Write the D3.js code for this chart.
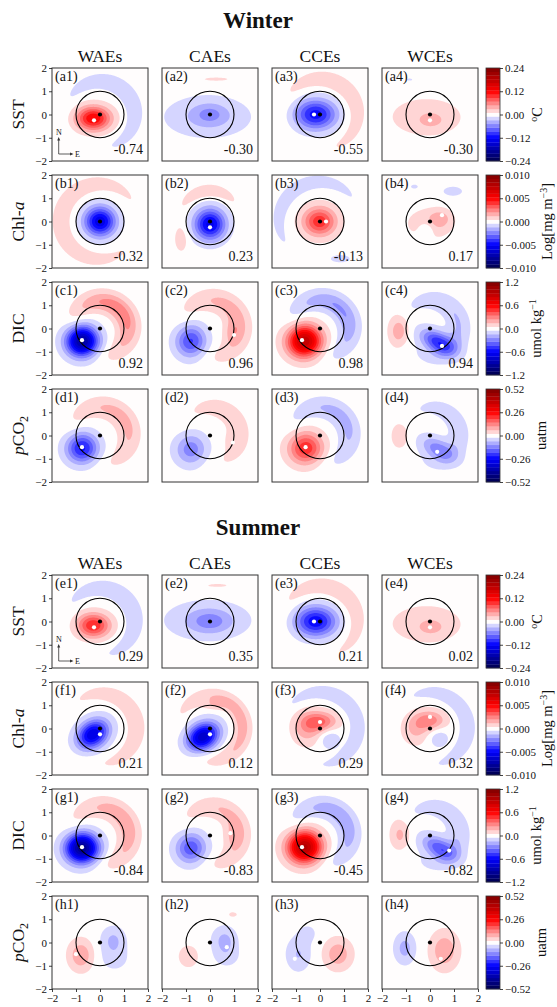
<!DOCTYPE html>
<html>
<head>
<meta charset="utf-8">
<script src="https://cdn.jsdelivr.net/npm/d3@7"></script>
<style>
  body { margin: 0; background: #fff; }
  text { font-family: "Liberation Serif", "Times New Roman", serif; fill: #111; }
</style>
</head>
<body>
<svg id="fig" width="557" height="1007"></svg>
<script>
// ---- chart data ----
const seasonTitles = ["Winter", "Summer"];
const eddyTypes = ["WAEs", "CAEs", "CCEs", "WCEs"];
const panelLetters = [["a", "b", "c", "d"], ["e", "f", "g", "h"]];
const varMax = [0.24, 0.010, 1.2, 0.52];
const cbarTickLabels = [
  ["0.24", "0.12", "0.00", "−0.12", "−0.24"],
  ["0.010", "0.005", "0.000", "−0.005", "−0.010"],
  ["1.2", "0.6", "0.0", "−0.6", "−1.2"],
  ["0.52", "0.26", "0.00", "−0.26", "−0.52"]
];
const axisTicks = [-2, -1, 0, 1, 2];

const corrWinter = [
  ["-0.74", "-0.30", "-0.55", "-0.30"],
  ["-0.32", "0.23", "-0.13", "0.17"],
  ["0.92", "0.96", "0.98", "0.94"],
  null
];
const corrSummer = [
  ["0.29", "0.35", "0.21", "0.02"],
  ["0.21", "0.12", "0.29", "0.32"],
  ["-0.84", "-0.83", "-0.45", "-0.82"],
  null
];

// white dot (anomaly extreme) per panel, null if hidden under the centre dot
const dotsWinter = [
  [[-0.25, -0.25], null, [-0.25, 0], [0, -0.25]],
  [null, [0, -0.25], [0.25, 0], [0.5, 0.27]],
  [[-0.75, -0.5], [1.0, -0.28], [-0.75, -0.5], [0.5, -0.75]],
  [[-0.75, -0.5], [0.95, -0.3], [-0.6, -0.5], [0.3, -0.7]]
];
const dotsSummer = [
  [[-0.25, -0.25], null, [-0.25, 0], [0, -0.25]],
  [[0, -0.25], [0, -0.25], [0, 0.28], [0, 0.5]],
  [[-0.75, -0.5], [0.85, 0.1], [-0.75, -0.5], [0.8, -0.65]],
  [[-1.0, -0.5], [0.7, -0.2], [-1.05, -0.7], [0.45, -0.7]]
];

// composite fields:
// ["b", x, y, sx, sy, amp, rotDeg]  blob
// ["r", radius, width, centreDeg, spreadDeg, amp]  arc around the eddy
const sstWinter = [
  [["b", -0.28, -0.17, 0.5, 0.36, 0.125], ["r", 1.42, 0.26, 40, 80, -0.025]],
  [["b", -0.1, -0.1, 1.15, 0.58, -0.033], ["b", 0, 0.02, 0.45, 0.3, -0.027], ["b", 0.25, 1.52, 0.5, 0.07, 0.016]],
  [["b", -0.18, 0, 0.6, 0.45, -0.115], ["r", 1.5, 0.27, 45, 80, 0.025]],
  [["b", -0.15, -0.1, 1.2, 0.65, 0.019], ["b", 0.05, -0.25, 0.4, 0.25, 0.022], ["b", -0.85, 1.5, 0.15, 0.06, -0.014]]
];
const chlWinter = [
  [["b", 0, 0, 0.45, 0.44, -0.0058], ["r", 1.6, 0.25, 172, 92, 0.0012]],
  [["b", 0, -0.12, 0.45, 0.47, -0.0055], ["r", 1.3, 0.2, 95, 40, 0.0011], ["b", -1.2, -0.75, 0.2, 0.4, 0.0009]],
  [["b", -0.02, 0, 0.48, 0.43, 0.0042], ["r", 1.7, 0.2, 125, 58, -0.0012], ["b", 0.85, -1.6, 0.3, 0.12, -0.0009]],
  [["b", 0, -0.1, 0.6, 0.42, 0.0013], ["b", 0.45, 0.15, 0.3, 0.25, 0.0011], ["b", -0.15, -0.3, 0.25, 0.25, -0.0012],
   ["b", 0.95, 1.3, 0.3, 0.15, -0.0009], ["b", -0.65, 1.5, 0.12, 0.07, -0.0008]]
];
const dicWinter = [
  [["b", -0.75, -0.55, 0.46, 0.45, -0.95], ["r", 1.15, 0.32, 45, 70, 0.3]],
  [["b", -0.8, -0.55, 0.44, 0.48, -0.45], ["r", 1.2, 0.34, 30, 72, 0.2], ["b", 0.9, -0.15, 0.25, 0.35, 0.1]],
  [["b", -0.65, -0.55, 0.5, 0.48, 0.9], ["r", 1.2, 0.32, 45, 70, -0.25]],
  [["b", 0.35, -0.6, 0.55, 0.3, -0.5, -30], ["r", 1.2, 0.32, 10, 80, -0.15], ["b", -1.3, -0.1, 0.28, 0.45, 0.22]]
];
const pco2Winter = [
  [["b", -0.75, -0.55, 0.46, 0.45, -0.24], ["r", 1.2, 0.32, 40, 70, 0.08]],
  [["b", -0.8, -0.6, 0.46, 0.48, -0.13], ["r", 1.2, 0.32, 30, 70, 0.05], ["b", 0.9, -0.2, 0.25, 0.3, 0.02]],
  [["b", -0.6, -0.55, 0.5, 0.48, 0.22], ["r", 1.2, 0.32, 40, 70, -0.08]],
  [["b", 0.35, -0.6, 0.55, 0.3, -0.13, -30], ["r", 1.2, 0.32, 10, 80, -0.045], ["b", -1.25, 0, 0.28, 0.45, 0.05]]
];
const sstSummer = [
  [["b", -0.28, -0.17, 0.48, 0.36, 0.105], ["r", 1.42, 0.27, 35, 78, -0.026]],
  [["b", -0.1, 0.05, 1.15, 0.55, -0.033], ["b", 0, 0, 0.55, 0.33, -0.03], ["b", 0.3, 1.55, 0.45, 0.07, 0.015]],
  [["b", -0.18, 0, 0.6, 0.45, -0.12], ["r", 1.5, 0.27, 50, 80, 0.025]],
  [["b", -0.15, -0.1, 1.2, 0.65, 0.019], ["b", 0.05, -0.25, 0.4, 0.25, 0.022]]
];
const chlSummer = [
  [["b", -0.3, -0.25, 0.5, 0.38, -0.006, 40], ["r", 1.5, 0.24, 20, 70, 0.0012]],
  [["b", -0.3, -0.35, 0.5, 0.38, -0.0066, 35], ["r", 1.35, 0.25, 20, 78, 0.0017], ["b", 0.2, 1.0, 0.35, 0.15, 0.0008]],
  [["b", 0, 0.3, 0.5, 0.3, 0.0028], ["b", -0.55, 0, 0.45, 0.5, 0.0016], ["b", 0.4, -0.45, 0.3, 0.3, -0.0012],
   ["r", 1.55, 0.22, 30, 78, -0.0012]],
  [["b", 0, 0.35, 0.45, 0.3, 0.0024], ["b", -0.6, -0.05, 0.4, 0.45, 0.0013], ["b", 0.35, -0.4, 0.3, 0.3, -0.001],
   ["r", 1.55, 0.22, 20, 65, -0.0012]]
];
const dicSummer = [
  [["b", -0.75, -0.55, 0.48, 0.45, -1.0], ["r", 1.2, 0.32, 30, 72, 0.22]],
  [["b", -0.8, -0.55, 0.44, 0.46, -0.42], ["r", 1.2, 0.32, 25, 72, 0.18], ["b", 0.9, 0, 0.25, 0.35, 0.08]],
  [["b", -0.65, -0.5, 0.5, 0.48, 0.95], ["r", 1.2, 0.32, 40, 70, -0.22]],
  [["b", 0.4, -0.55, 0.55, 0.3, -0.4, -30], ["r", 1.2, 0.32, 10, 80, -0.13], ["b", -1.25, 0.05, 0.28, 0.45, 0.18]]
];
const pco2Summer = [
  [["b", -0.8, -0.55, 0.35, 0.45, 0.1], ["b", 0.55, 0.1, 0.35, 0.4, -0.07], ["b", 0.6, -0.7, 0.45, 0.4, -0.035]],
  [["b", 0.6, 0.1, 0.35, 0.4, -0.075], ["b", 0.7, -0.6, 0.4, 0.35, -0.035], ["b", -0.9, -0.6, 0.35, 0.4, 0.04],
   ["b", 0.95, 1.2, 0.2, 0.12, 0.03]],
  [["b", -0.9, -0.5, 0.35, 0.5, -0.065], ["b", -0.5, 0.4, 0.3, 0.3, -0.03], ["b", 0.75, -0.5, 0.4, 0.45, 0.095]],
  [["b", -1.05, -0.25, 0.3, 0.45, -0.08], ["b", 0.6, -0.35, 0.4, 0.55, 0.1]]
];

const fields = [
  [sstWinter, chlWinter, dicWinter, pco2Winter],
  [sstSummer, chlSummer, dicSummer, pco2Summer]
];
const corrs = [corrWinter, corrSummer];
const dots = [dotsWinter, dotsSummer];

// ---- layout ----
const svg = d3.select("#fig");
const panelW = 96, panelH = 93, colStep = 110, rowStep = 107;
const firstLeft = 52;
const seasonTop = [68, 575];
const cbarLeft = 486, cbarWidth = 14;
const nGrid = 101, nBands = 25;

// matplotlib "seismic"
function seismic(t) {
  const idx = Math.min(255, Math.max(0, Math.floor(t * 256)));
  const u = idx / 255;
  let r, g, b;
  if (u < 0.25) { r = 0; g = 0; b = 0.3 + 0.7 * u / 0.25; }
  else if (u < 0.5) { r = g = (u - 0.25) / 0.25; b = 1; }
  else if (u < 0.75) { r = 1; g = b = 1 - (u - 0.5) / 0.25; }
  else { r = 1 - 0.5 * (u - 0.75) / 0.25; g = b = 0; }
  return d3.rgb(r * 255, g * 255, b * 255).formatHex();
}
const bandColor = k => seismic((k + 0.5) / nBands);

function fieldAt(comps, px, py) {
  let v = 0;
  comps.forEach(c => {
    if (c[0] === "b") {
      const [, cx, cy, sx, sy, amp, rot = 0] = c;
      const a = rot * Math.PI / 180;
      const dx = px - cx, dy = py - cy;
      const u = (dx * Math.cos(a) + dy * Math.sin(a)) / sx;
      const w = (-dx * Math.sin(a) + dy * Math.cos(a)) / sy;
      v += amp * Math.exp(-0.5 * (u * u + w * w));
    } else {
      const [, r0, wr, ang, spread, amp] = c;
      const rho = Math.hypot(px, py);
      const phi = Math.atan2(py, px) * 180 / Math.PI;
      const dphi = ((phi - ang) % 360 + 540) % 360 - 180;
      v += amp * Math.exp(-0.5 * ((rho - r0) / wr) ** 2) * Math.exp(-0.5 * (dphi / spread) ** 2);
    }
  });
  return v;
}

const fmtTick = d => d < 0 ? "−" + (-d) : String(d);
let clipId = 0;

function styleAxis(g) {
  g.select(".domain").remove();
  g.selectAll("line").attr("stroke", "#111").attr("stroke-width", 0.8);
  g.selectAll("text")
    .attr("font-family", '"Liberation Serif", serif')
    .attr("font-size", 11)
    .attr("fill", "#111");
}

function drawPanel(s, r, c) {
  const left = firstLeft + c * colStep;
  const top = seasonTop[s] + r * rowStep;
  const vmax = varMax[r];
  const comps = fields[s][r][c];

  const x = d3.scaleLinear().domain([-2, 2]).range([0, panelW]);
  const y = d3.scaleLinear().domain([-2, 2]).range([panelH, 0]);

  const g = svg.append("g").attr("transform", `translate(${left},${top})`);
  const id = "clip" + (clipId++);
  g.append("clipPath").attr("id", id)
    .append("rect").attr("width", panelW).attr("height", panelH);

  const values = new Array(nGrid * nGrid);
  for (let j = 0; j < nGrid; j++) {
    const py = 2 - 4 * j / (nGrid - 1);
    for (let i = 0; i < nGrid; i++) {
      const px = -2 + 4 * i / (nGrid - 1);
      values[j * nGrid + i] = fieldAt(comps, px, py);
    }
  }
  const levels = d3.range(nBands + 1).map(k => -vmax + k * 2 * vmax / nBands);
  const contours = d3.contours().size([nGrid, nGrid]).thresholds(levels.slice(1, nBands))(values);

  const gx = d3.scaleLinear().domain([0.5, nGrid - 0.5]).range([x(-2), x(2)]);
  const gy = d3.scaleLinear().domain([0.5, nGrid - 0.5]).range([y(2), y(-2)]);
  const path = d3.geoPath(d3.geoTransform({
    point(px, py) { this.stream.point(gx(px), gy(py)); }
  }));

  const plot = g.append("g").attr("clip-path", `url(#${id})`);
  plot.append("rect").attr("width", panelW).attr("height", panelH).attr("fill", bandColor(0));
  plot.selectAll("path.band")
    .data(contours)
    .enter()
    .append("path")
    .attr("class", "band")
    .attr("d", path)
    .attr("fill", (d, i) => bandColor(i + 1));

  // eddy edge and centres
  g.append("ellipse")
    .attr("cx", x(0)).attr("cy", y(0))
    .attr("rx", x(1) - x(0)).attr("ry", y(0) - y(1))
    .attr("fill", "none").attr("stroke", "#000").attr("stroke-width", 1.1);
  g.append("circle").attr("cx", x(0)).attr("cy", y(0)).attr("r", 2.1).attr("fill", "#000");
  const wd = dots[s][r][c];
  if (wd) {
    g.append("circle").attr("cx", x(wd[0])).attr("cy", y(wd[1])).attr("r", 2.1).attr("fill", "#fff");
  }

  g.append("rect").attr("width", panelW).attr("height", panelH)
    .attr("fill", "none").attr("stroke", "#333").attr("stroke-width", 1);

  g.append("text").attr("x", 3).attr("y", 13).attr("font-size", 14)
    .text(`(${panelLetters[s][r]}${c + 1})`);

  const corr = corrs[s][r];
  if (corr) {
    g.append("text").attr("x", panelW - 5).attr("y", panelH - 7)
      .attr("text-anchor", "end").attr("font-size", 14).text(corr[c]);
  }

  if (c === 0) {
    g.append("g")
      .call(d3.axisLeft(y).tickValues(axisTicks).tickSize(3).tickPadding(2).tickFormat(fmtTick))
      .call(styleAxis);
  }
  if (s === 1 && r === 3) {
    g.append("g").attr("transform", `translate(0,${panelH})`)
      .call(d3.axisBottom(x).tickValues(axisTicks).tickSize(3).tickPadding(2).tickFormat(fmtTick))
      .call(styleAxis);
  }

  // N / E compass in the first SST panel of each season
  if (r === 0 && c === 0) {
    const comp = g.append("g").attr("stroke", "#333").attr("stroke-width", 0.8);
    comp.append("line").attr("x1", 6.7).attr("y1", 86).attr("x2", 6.7).attr("y2", 71);
    comp.append("line").attr("x1", 6.7).attr("y1", 86).attr("x2", 19.5).attr("y2", 86);
    g.append("path").attr("d", "M6.7,69 L5.2,72.5 L8.2,72.5 Z").attr("fill", "#333");
    g.append("path").attr("d", "M21.5,86 L18,84.5 L18,87.5 Z").attr("fill", "#333");
    g.append("text").attr("x", 7).attr("y", 67).attr("text-anchor", "middle").attr("font-size", 8).text("N");
    g.append("text").attr("x", 23).attr("y", 89).attr("font-size", 8).text("E");
  }
}

function drawColorbar(s, r) {
  const top = seasonTop[s] + r * rowStep;
  const vmax = varMax[r];
  const cb = d3.scaleLinear().domain([-vmax, vmax]).range([panelH, 0]);
  const g = svg.append("g").attr("transform", `translate(${cbarLeft},${top})`);
  const levels = d3.range(nBands + 1).map(k => -vmax + k * 2 * vmax / nBands);
  g.selectAll("rect.cb")
    .data(d3.range(nBands))
    .enter()
    .append("rect")
    .attr("class", "cb")
    .attr("x", 0)
    .attr("width", cbarWidth)
    .attr("y", k => cb(levels[k + 1]))
    .attr("height", k => cb(levels[k]) - cb(levels[k + 1]) + 0.3)
    .attr("fill", k => bandColor(k));
  g.append("rect").attr("width", cbarWidth).attr("height", panelH)
    .attr("fill", "none").attr("stroke", "#333").attr("stroke-width", 0.8);

  const tickVals = [vmax, vmax / 2, 0, -vmax / 2, -vmax];
  g.append("g").attr("transform", `translate(${cbarWidth},0)`)
    .call(d3.axisRight(cb).tickValues(tickVals).tickSize(3).tickPadding(2)
      .tickFormat((d, i) => cbarTickLabels[r][i]))
    .call(styleAxis);

  const labelX = [56, 66, 55, 60][r];
  const lab = g.append("text")
    .attr("transform", `translate(${labelX},${panelH / 2}) rotate(-90)`)
    .attr("text-anchor", "middle")
    .attr("font-size", 14.5);
  if (r === 0) {
    lab.append("tspan").attr("font-size", 10).attr("dy", -5).text("o");
    lab.append("tspan").attr("dy", 5).text("C");
  } else if (r === 1) {
    lab.append("tspan").text("Log[mg m");
    lab.append("tspan").attr("font-size", 10).attr("dy", -5).text("−3");
    lab.append("tspan").attr("dy", 5).text("]");
  } else if (r === 2) {
    lab.append("tspan").text("umol kg");
    lab.append("tspan").attr("font-size", 10).attr("dy", -5).text("−1");
  } else {
    lab.text("uatm");
  }
}

function drawRowLabel(s, r) {
  const top = seasonTop[s] + r * rowStep;
  const t = svg.append("text")
    .attr("transform", `translate(24,${top + panelH / 2}) rotate(-90)`)
    .attr("text-anchor", "middle")
    .attr("font-size", 17.5);
  if (r === 0) t.text("SST");
  else if (r === 1) {
    t.append("tspan").text("Chl-");
    t.append("tspan").attr("font-style", "italic").text("a");
  } else if (r === 2) t.text("DIC");
  else {
    t.append("tspan").attr("font-style", "italic").text("p");
    t.append("tspan").text("CO");
    t.append("tspan").attr("font-size", 12).attr("dy", 4).text("2");
  }
}

seasonTitles.forEach((title, s) => {
  svg.append("text")
    .attr("x", 258).attr("y", seasonTop[s] - 40)
    .attr("text-anchor", "middle")
    .attr("font-size", 23).attr("font-weight", "bold")
    .text(title);
  eddyTypes.forEach((name, c) => {
    svg.append("text")
      .attr("x", firstLeft + c * colStep + panelW / 2)
      .attr("y", seasonTop[s] - 6)
      .attr("text-anchor", "middle")
      .attr("font-size", 17.5)
      .text(name);
  });
  for (let r = 0; r < 4; r++) {
    drawRowLabel(s, r);
    for (let c = 0; c < 4; c++) drawPanel(s, r, c);
    drawColorbar(s, r);
  }
});
</script>
</body>
</html>
